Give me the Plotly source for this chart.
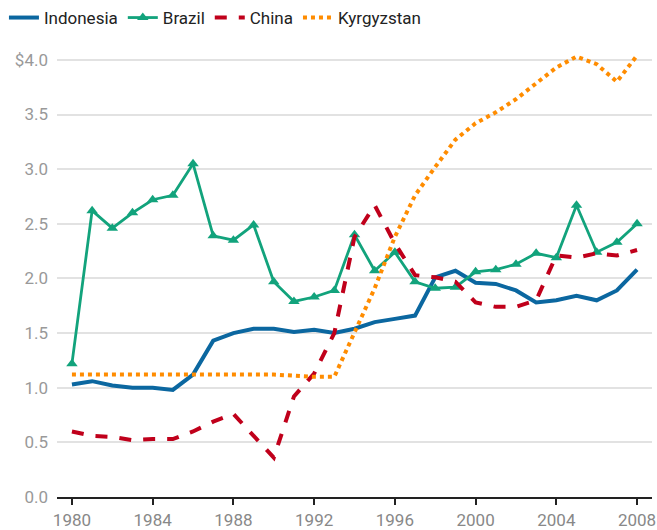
import plotly.graph_objects as go

years = list(range(1980, 2009))

indonesia = [1.03, 1.06, 1.02, 1.00, 1.00, 0.98, 1.12, 1.43, 1.50, 1.54,
             1.54, 1.51, 1.53, 1.50, 1.54, 1.60, 1.63, 1.66, 2.01, 2.07,
             1.96, 1.95, 1.89, 1.78, 1.80, 1.84, 1.80, 1.89, 2.08]

brazil = [1.22, 2.62, 2.46, 2.60, 2.72, 2.76, 3.05, 2.39, 2.35, 2.49,
          1.97, 1.79, 1.83, 1.89, 2.40, 2.07, 2.24, 1.97, 1.91, 1.92,
          2.06, 2.08, 2.13, 2.23, 2.19, 2.67, 2.24, 2.33, 2.50]

china = [0.60, 0.56, 0.55, 0.52, 0.53, 0.53, 0.60, 0.69, 0.76, 0.56,
         0.36, 0.92, 1.13, 1.50, 2.38, 2.67, 2.32, 2.03, 2.01, 1.97,
         1.78, 1.74, 1.74, 1.80, 2.21, 2.19, 2.23, 2.21, 2.26]

kyrgyzstan = [1.12, 1.12, 1.12, 1.12, 1.12, 1.12, 1.12, 1.12, 1.12, 1.12,
              1.12, 1.11, 1.10, 1.10, 1.50, 1.91, 2.38, 2.76, 3.02, 3.27,
              3.42, 3.52, 3.64, 3.79, 3.93, 4.03, 3.96, 3.80, 4.04]

x_ticks = list(range(1980, 2009, 4))
y_ticks = [0.0, 0.5, 1.0, 1.5, 2.0, 2.5, 3.0, 3.5, 4.0]
y_labels = ["0.0", "0.5", "1.0", "1.5", "2.0", "2.5", "3.0", "3.5", "$4.0"]

fig = go.Figure()
fig.add_trace(go.Scatter(
    x=years, y=indonesia, name="Indonesia", mode="lines",
    line=dict(color="#0b67a0", width=4),
))
fig.add_trace(go.Scatter(
    x=years, y=brazil, name="Brazil", mode="lines+markers",
    line=dict(color="#12a37c", width=2.8),
    marker=dict(symbol="triangle-up", size=10, color="#12a37c"),
))
fig.add_trace(go.Scatter(
    x=years, y=china, name="China", mode="lines",
    line=dict(color="#c0001b", width=4, dash="dash"),
))
fig.add_trace(go.Scatter(
    x=years, y=kyrgyzstan, name="Kyrgyzstan", mode="lines",
    line=dict(color="#ff8c00", width=4, dash="dot"),
))

fig.update_layout(
    width=657, height=530,
    margin=dict(l=57, r=5, t=38, b=33, autoexpand=False),
    paper_bgcolor="white", plot_bgcolor="white",
    font=dict(family="Roboto", size=17, color="#222222"),
    legend=dict(
        orientation="h", x=0.006, y=1.0, xanchor="left", yanchor="top",
        xref="container", yref="container",
        font=dict(size=17, color="#222222"),
        itemwidth=30,
    ),
)

fig.update_xaxes(
    range=[1979.26, 2008.74], tickvals=x_ticks, ticktext=[str(v) for v in x_ticks],
    showgrid=False, showline=True, linecolor="#222222", linewidth=1.5,
    ticks="outside", ticklen=6, tickwidth=1.5, tickcolor="#222222",
    tickfont=dict(color="#888888", size=17), zeroline=False,
    automargin=False, ticklabelstandoff=1,
)
fig.update_yaxes(
    range=[0, 4.2], tickvals=y_ticks, ticktext=y_labels,
    showgrid=True, gridcolor="#e2e2e2", gridwidth=1.5,
    zeroline=False, showline=False, ticks="",
    tickfont=dict(color="#999999", size=17),
    automargin=False, ticklabelstandoff=8,
)

# page body has a default 8px margin; drop it so the figure sits at 0,0
fig.write_html(
    "out.html",
    config={"displayModeBar": False},
    post_script="document.body.style.margin='0';",
)
